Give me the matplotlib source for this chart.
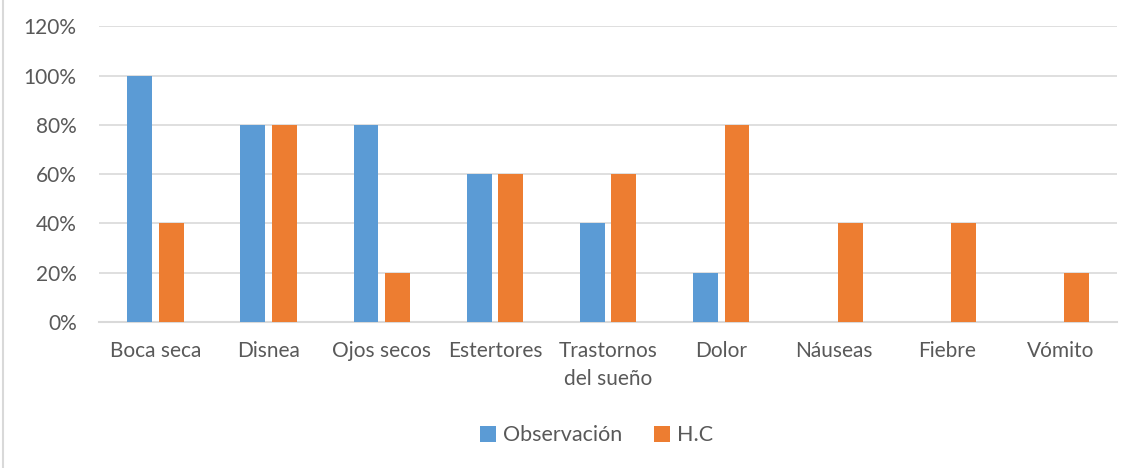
import numpy as np
import matplotlib.pyplot as plt
from matplotlib.lines import Line2D

# datos
categorias = ["Boca seca", "Disnea", "Ojos secos", "Estertores", "Trastornos\ndel sueño",
              "Dolor", "Náuseas", "Fiebre", "Vómito"]
observacion = [100, 80, 80, 60, 40, 20, 0, 0, 0]
hc = [40, 80, 20, 60, 60, 80, 40, 40, 20]
yticks = [0, 20, 40, 60, 80, 100, 120]

azul = "#5B9BD5"
naranja = "#ED7D31"
gris = "#595959"

plt.rcParams["font.family"] = ["Lato", "DejaVu Sans"]

fig = plt.figure(figsize=(11.47, 4.68), dpi=100)
ax = fig.add_axes([0.0863, 0.312, 0.8877, 0.632])

x = np.arange(len(categorias))
w = 0.22
gap = 0.03
ax.bar(x - w / 2 - gap, observacion, w, color=azul, label="Observación", zorder=3)
ax.bar(x + w / 2 + gap, hc, w, color=naranja, label="H.C", zorder=3)

ax.set_xlim(-0.5, len(categorias) - 0.5)
ax.set_ylim(0, 120)
ax.set_yticks(yticks)
ax.set_yticklabels([f"{v}%" for v in yticks])
ax.set_xticks(x)
ax.set_xticklabels(categorias, linespacing=1.45)
ax.yaxis.grid(True, color="#D9D9D9", linewidth=1.2, zorder=0)
for s in ["top", "right", "left"]:
    ax.spines[s].set_visible(False)
ax.spines["bottom"].set_color("#D9D9D9")
ax.spines["bottom"].set_linewidth(1.5)
ax.tick_params(axis="both", length=0, labelsize=15, colors=gris)
ax.tick_params(axis="x", pad=14)
ax.tick_params(axis="y", pad=16)

fig.legend(loc="center", bbox_to_anchor=(0.52, 0.07), ncol=2, frameon=False,
           fontsize=15.5, labelcolor=gris, handlelength=0.75, handleheight=0.75,
           handletextpad=0.3, columnspacing=1.5)

# borde del área del gráfico
fig.add_artist(Line2D([0.003, 0.003], [0, 1], transform=fig.transFigure,
                      color="#D9D9D9", linewidth=1.5))

fig.savefig("out.png", dpi=100)
